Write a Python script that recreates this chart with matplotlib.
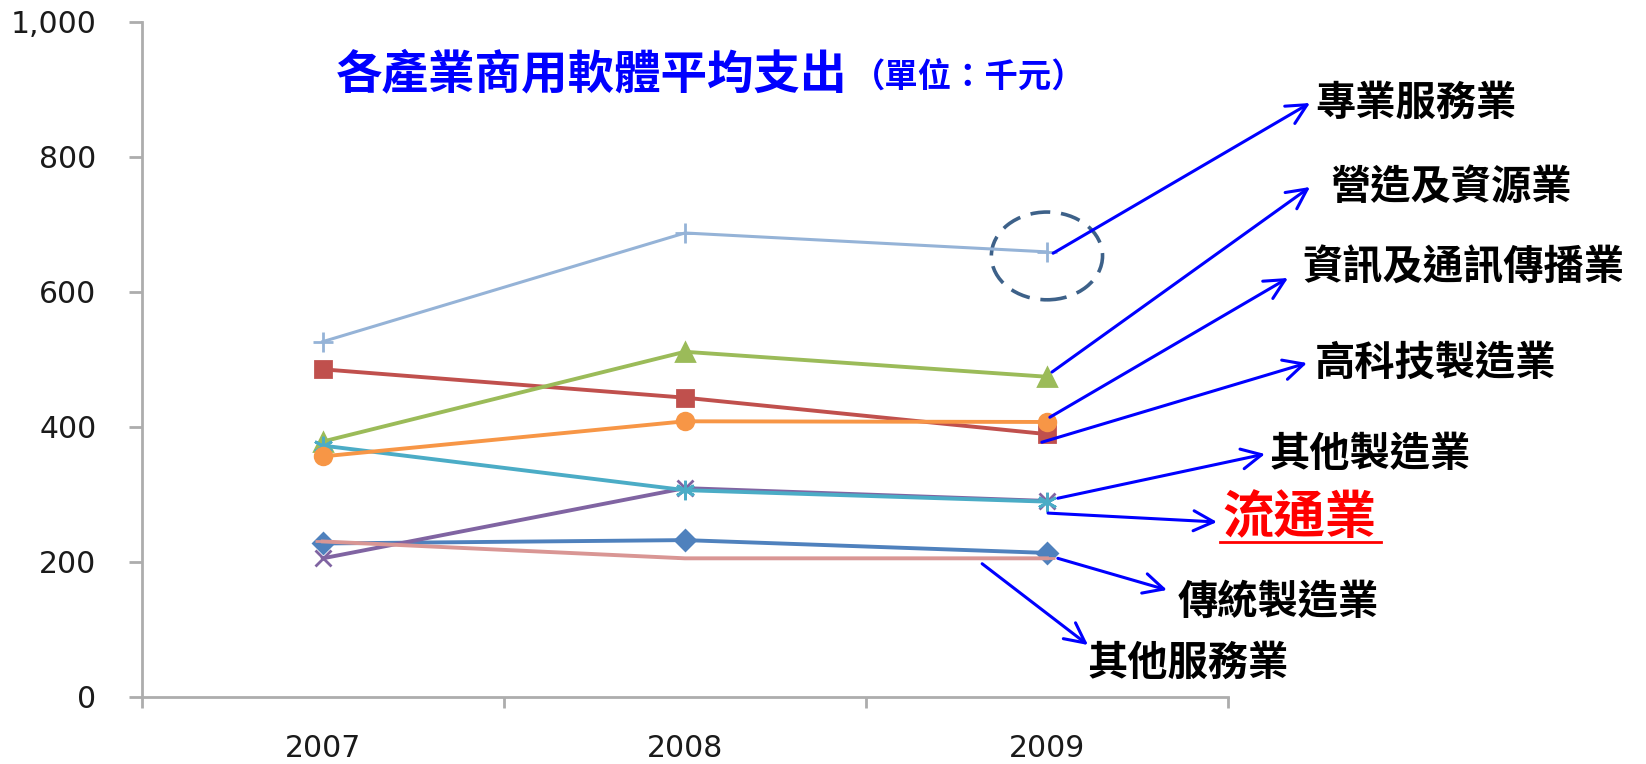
import matplotlib
matplotlib.use('Agg')
import matplotlib.pyplot as plt
from matplotlib.patches import Ellipse
from matplotlib.lines import Line2D
from matplotlib.ticker import FuncFormatter

plt.rcParams['font.family'] = ['Noto Sans CJK TC', 'DejaVu Sans']

W, H = 1646, 764

years = ['2007', '2008', '2009']
prof_services = [526, 687, 659]
high_tech = [485, 443, 389]
construction = [378, 511, 474]
ict = [356, 408, 407]
distribution = [372, 306, 289]
other_mfg = [205, 309, 290]
traditional_mfg = [227, 232, 213]
other_services = [230, 205, 205]

# (values, color, marker, markersize, linewidth) in Excel series order
series = [
    (traditional_mfg, '#4F81BD', 'D', 10, 2.8),
    (high_tech, '#C0504D', 's', 12, 2.8),
    (construction, '#9BBB59', '^', 13, 2.8),
    (other_mfg, '#8064A2', 'x', 12, 2.8),
    (distribution, '#4BACC6', (6, 2, 0), 14, 2.8),
    (ict, '#F79646', 'o', 12, 2.8),
    (prof_services, '#95B3D7', '+', 14, 2.2),
    (other_services, '#D99694', '_', 12, 2.8),
]


def fig_pt(x, y):
    # pixel position measured from top-left -> figure fraction
    return (x / W, 1 - y / H)


fig = plt.figure(figsize=(W / 100, H / 100), dpi=100)
ax = fig.add_axes([141.7 / W, 1 - 696.7 / H, (1228 - 141.7) / W, (696.7 - 21.7) / H])

xs = range(len(years))
for vals, color, marker, ms, lw in series:
    ax.plot(xs, vals, color=color, lw=lw, marker=marker, ms=ms,
            mec=color, mfc=color, mew=2, clip_on=False)

ax.set_xlim(-0.5, 2.5)
ax.set_ylim(0, 1000)
ax.set_yticks(range(0, 1001, 200))
ax.yaxis.set_major_formatter(FuncFormatter(lambda v, p: f'{int(v):,}'))
ax.set_xticks(list(xs))
ax.set_xticklabels(years)
ax.set_xticks([-0.5, 0.5, 1.5, 2.5], minor=True)

grey = '#ADADAD'
for s in ['top', 'right']:
    ax.spines[s].set_visible(False)
for s in ['left', 'bottom']:
    ax.spines[s].set_color(grey)
    ax.spines[s].set_linewidth(2)
ax.tick_params(axis='x', which='major', length=0, pad=27, labelsize=21.5, labelcolor='#1a1a1a')
ax.tick_params(axis='x', which='minor', length=8, width=2, color=grey, direction='out')
ax.tick_params(axis='y', length=9.5, width=2, color=grey, pad=23, labelsize=21.5, labelcolor='#1a1a1a')
for lab in ax.get_xticklabels() + ax.get_yticklabels():
    lab.set_family('DejaVu Sans')

# dashed circle around the 2009 value of 專業服務業
ax.add_patch(Ellipse((2.0, 653), 0.307, 130, fill=False, ec='#3D6189', lw=2.6,
                     ls=(0, (5.5, 3)), clip_on=False))

# title
fig.text(*fig_pt(336, 74), '各產業商用軟體平均支出', color='#0000FF', fontsize=33.5,
         fontweight='bold', va='center', ha='left')
fig.text(*fig_pt(852, 78), '（單位：千元）', color='#0000FF', fontsize=24,
         fontweight='bold', va='center', ha='left')

# labels: (text, arrow start in data coords, arrow tip px, text left/centre px, size, color)
labels = [
    ('專業服務業', (2.017, 657), (1310, 103), (1315, 103), 29, 'black'),
    ('營造及資源業', (2.014, 481), (1310, 187), (1330, 188), 29, 'black'),
    ('資訊及通訊傳播業', (2.008, 414), (1288, 278), (1302, 268), 29, 'black'),
    ('高科技製造業', (1.986, 377), (1307, 363), (1315, 363), 29, 'black'),
    ('其他製造業', (2.030, 294), (1265, 454), (1270, 454), 29, 'black'),
    ('流通業', (2.003, 272), (1217, 522), (1222, 517), 37, '#FF0000'),
    ('傳統製造業', (2.030, 205), (1167, 590), (1178, 602), 29, 'black'),
    ('其他服務業', (1.821, 197), (1088, 645), (1088, 663), 29, 'black'),
]
for text, start, tip, pos, size, color in labels:
    ax.annotate('', xy=fig_pt(*tip), xycoords='figure fraction',
                xytext=start, textcoords='data', annotation_clip=False,
                arrowprops=dict(arrowstyle='->,head_length=0.9,head_width=0.45',
                                mutation_scale=16, color='#0000FF', lw=2.2,
                                shrinkA=0, shrinkB=0))
    fig.text(*fig_pt(*pos), text, color=color, fontsize=size, fontweight='bold',
             va='center', ha='left')

# underline for 流通業
fig.add_artist(Line2D([1220 / W, 1381 / W], [1 - 542 / H, 1 - 542 / H],
                      color='#FF0000', lw=2))

fig.savefig('out.png', dpi=100)
